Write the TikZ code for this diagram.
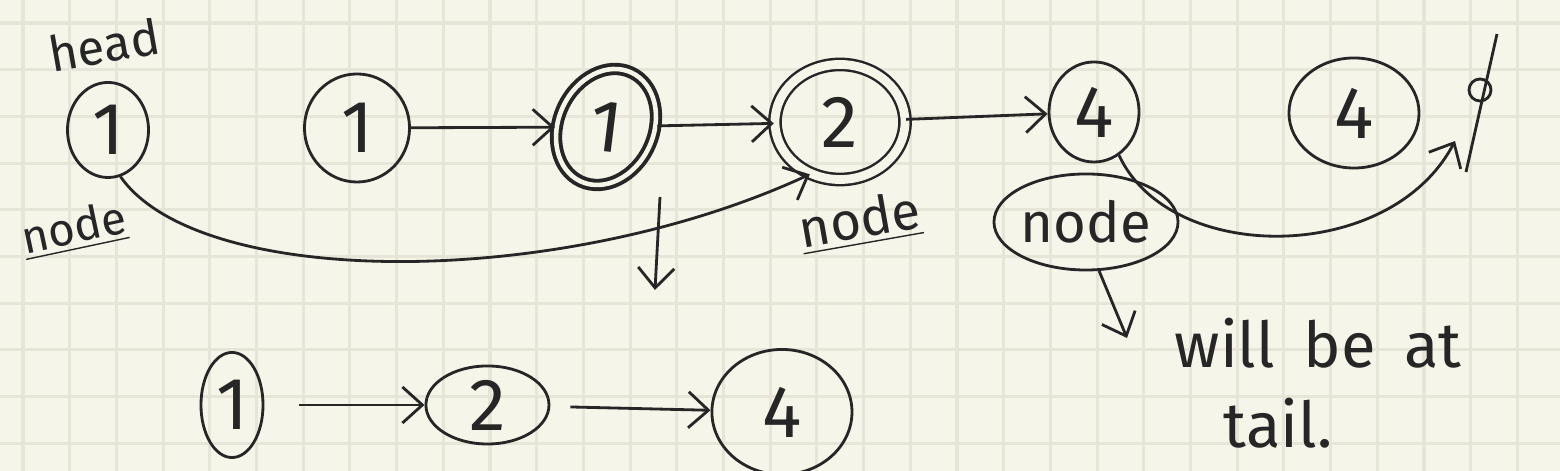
\documentclass[tikz,border=0pt]{standalone}
\usepackage{xcolor}
\usepackage{fontspec}
\setmainfont{Fira Sans}
\usetikzlibrary{shapes.geometric, arrows.meta, positioning}
\definecolor{paper}{HTML}{F6F5EA}
\definecolor{gridline}{HTML}{E6E5D8}
\definecolor{ink}{HTML}{262626}

\begin{document}
\begin{tikzpicture}[x=0.01cm, y=-0.01cm, node distance=1.6cm, >={Straight Barb[length=2mm,width=3.6mm]}, line width=0.8pt]
    % Styles
    \tikzstyle{cell} = [ellipse, draw=ink, text=ink, inner sep=0pt, font=\fontsize{21}{24}\selectfont]
    \tikzstyle{doubled} = [cell, double=paper, double distance=2.5pt, line width=0.7pt]
    \tikzstyle{scribbled} = [cell, double=paper, double distance=1.3pt, line width=1.1pt]
    \tikzstyle{note} = [text=ink, font=\fontsize{15}{18}\selectfont]
    \tikzstyle{link} = [->, draw=ink]

    % Paper
    \useasboundingbox (0,0) rectangle (1560,471);
    \clip (0,0) rectangle (1560,471);
    \fill[paper] (0,0) rectangle (1560,471);
    \foreach \i in {0,...,33}
        \draw[gridline, line width=0.9pt] ({23+46.7*\i},0) -- ({23+46.7*\i},471);
    \foreach \j in {0,...,9}
        \draw[gridline, line width=0.9pt] (0,{23+46.7*\j}) -- (1560,{23+46.7*\j});

    % Nodes, top row
    \node [cell, minimum width=0.81cm, minimum height=0.95cm] (head) at (108,130) {1};
    \node [note, rotate=10, font=\fontsize{14}{16}\selectfont] (headlbl) at (104,45) {head};
    \node [note, rotate=12, font=\fontsize{13}{16}\selectfont] (ptrA) at (74,230) {\underline{node}};
    \node [cell, minimum width=1.05cm, minimum height=1.08cm] (second) at (357,128) {1};
    \node [scribbled, rotate=-25, minimum width=0.95cm, minimum height=1.2cm] (third) at (606,127) {\rotatebox{18}{1}};
    \node [doubled, minimum width=1.3cm, minimum height=1.15cm] (two) at (840,122) {2};
    \node [note, rotate=10] (ptrB) at (860,222) {\underline{node}};
    \node [cell, minimum width=0.9cm, minimum height=1.0cm] (fourA) at (1094,112) {4};
    \node [cell, minimum width=1.8cm, minimum height=0.96cm, font=\fontsize{16}{18}\selectfont] (ptrC) at (1086,222) {node};
    \node [cell, minimum width=1.3cm, minimum height=1.1cm] (fourB) at (1354,113) {4};

    % Null end
    \coordinate (nullTop) at (1497,34);
    \coordinate (nullBot) at (1466,172);
    \node [circle, draw=ink, inner sep=0pt, minimum size=0.22cm] (nullDot) at (1480,90) {};
    \coordinate (nullHit) at (1455,141);

    % Notes
    \node [note, font=\fontsize{18}{20}\selectfont] (will) at (1318,343) {will\hspace{0.45em}be\hspace{0.45em}at};
    \node [note, font=\fontsize{18}{20}\selectfont] (tail) at (1278,423) {tail.};

    % Nodes, bottom row
    \node [cell, minimum width=0.62cm, minimum height=1.05cm] (b1) at (232,405) {1};
    \node [cell, minimum width=1.23cm, minimum height=0.78cm, right=of b1] (b2) {2};
    \node [cell, minimum width=1.4cm, minimum height=1.25cm, right=of b2, yshift=-0.07cm] (b4) {4};

    % Connections
    \draw[link] (second) -- (third);
    \draw[link] (third) -- (two);
    \draw[link] (two) -- (fourA);
    \draw[link] (head.-75) .. controls (200,290) and (560,290) .. (two.-120);
    \coordinate (dropTop) at (660,197);
    \coordinate (dropEnd) at (655,290);
    \draw[link] (dropTop) -- (dropEnd);
    \draw[link] (fourA.-60) .. controls (1170,265) and (1390,265) .. (nullHit);
    \coordinate (hookEnd) at (1127,338);
    \draw[link] (ptrC.-75) -- (hookEnd);
    \draw[ink] (nullTop) -- (nullBot);

    % Bottom list
    \draw[link, shorten <=0.35cm] (b1) -- (b2);
    \draw[link, shorten <=0.2cm] (b2) -- (b4);

\end{tikzpicture}
\end{document}
